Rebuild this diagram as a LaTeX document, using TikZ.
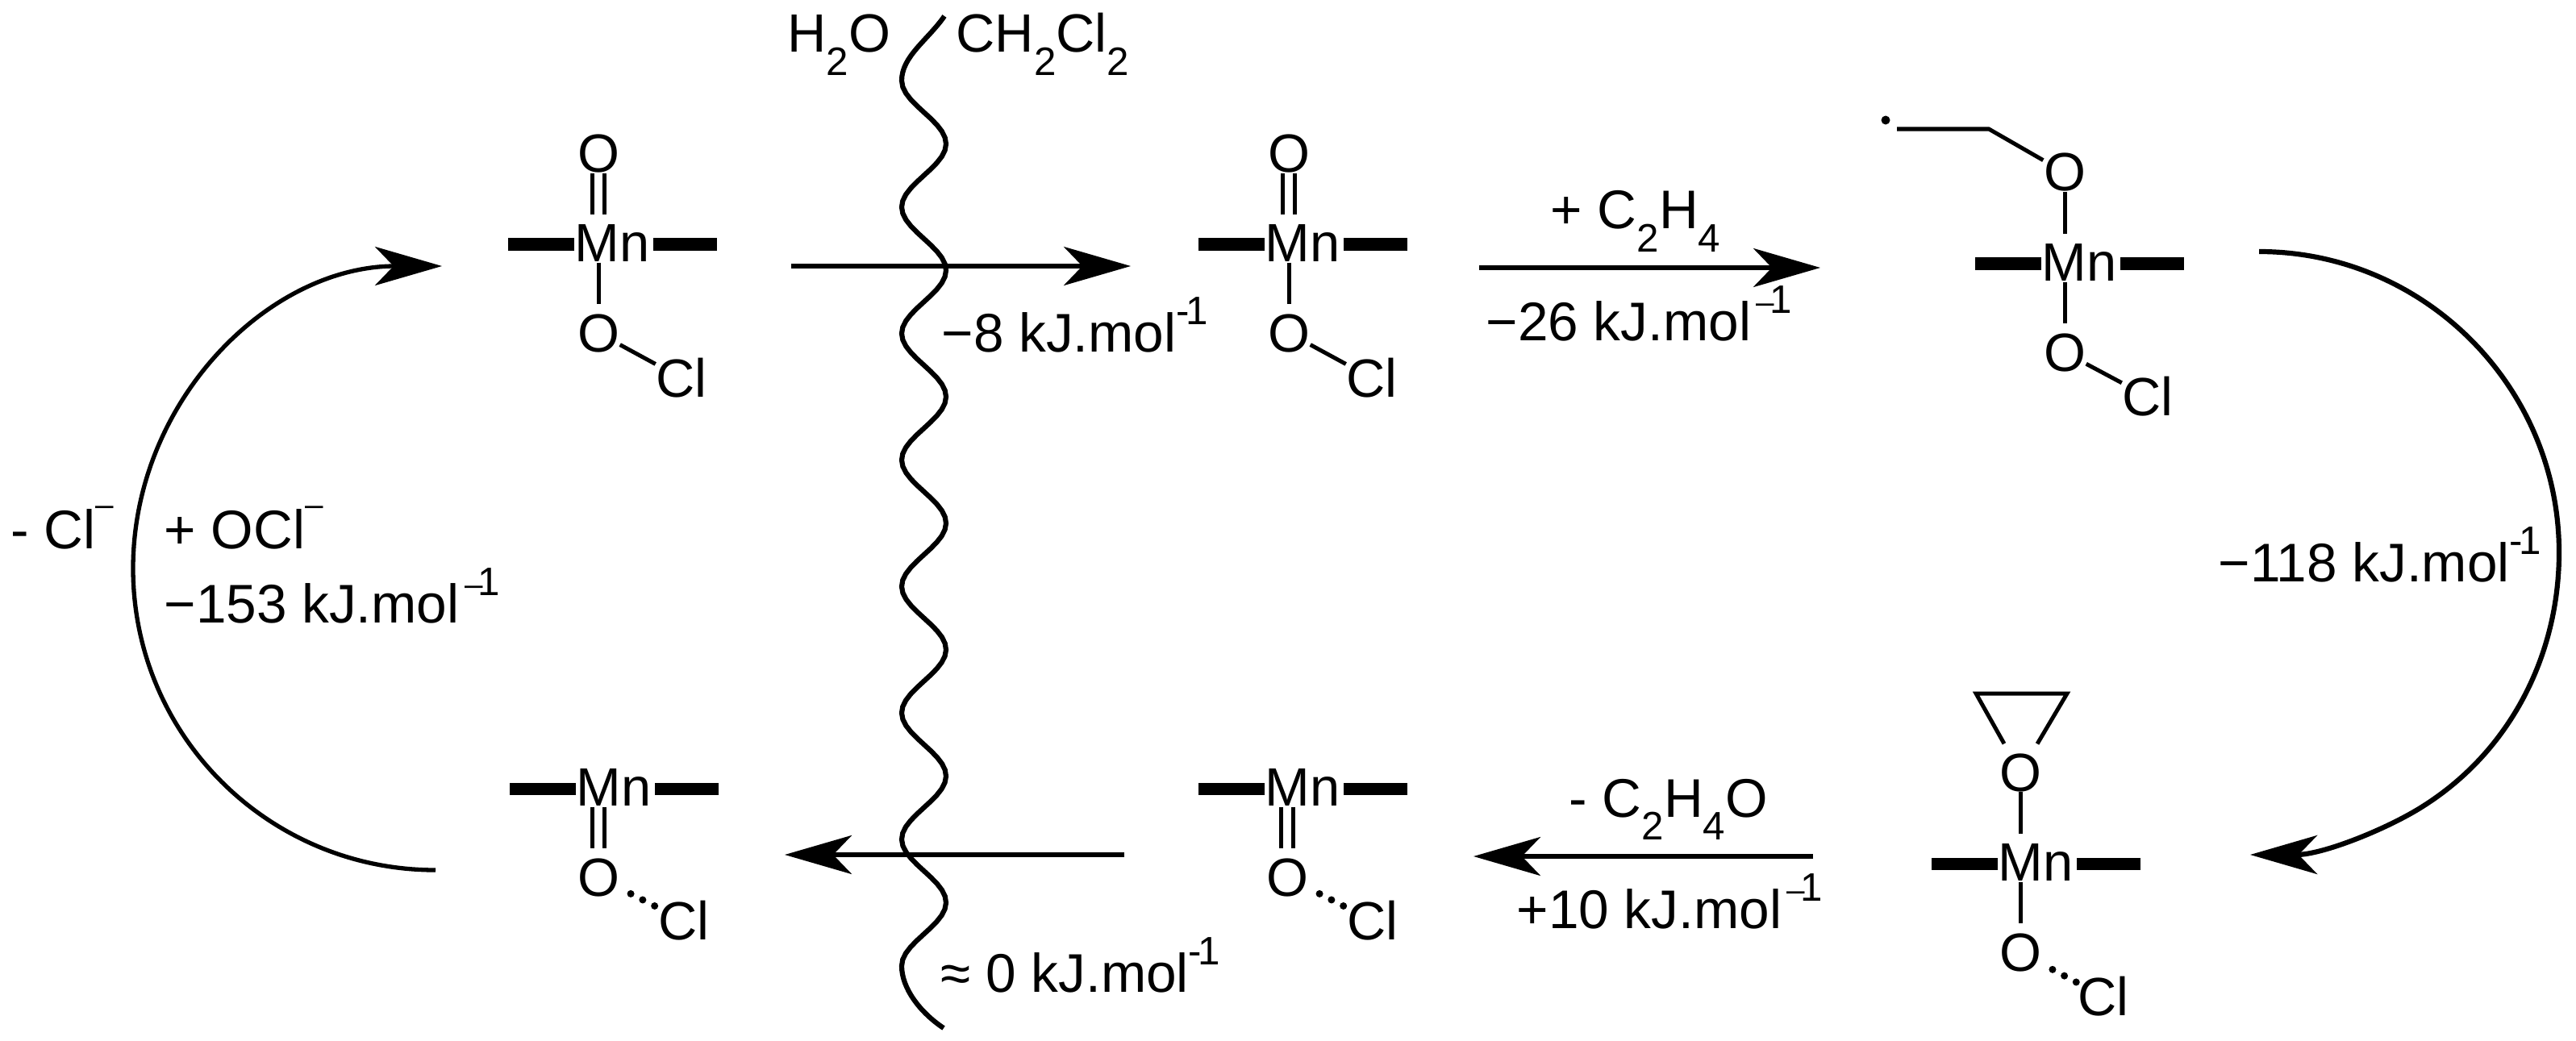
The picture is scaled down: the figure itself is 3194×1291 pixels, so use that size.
\documentclass[tikz,border=0pt]{standalone}
\usepackage{fontspec}
\setmainfont{Liberation Sans}
\usetikzlibrary{arrows.meta}

\newcommand{\supr}[1]{\raisebox{.5em}{\fontsize{14}{14}\selectfont #1}}
\newcommand{\subr}[1]{\raisebox{-.42em}{\fontsize{14}{14}\selectfont #1}}
\newcommand{\supbar}{{\fontsize{11.5}{12}\selectfont –}}
\newcommand{\kjbar}{kJ.mol\kern.1em\supr{\supbar\kern-.12em 1}}
\newcommand{\kjhyp}{kJ.mol\supr{-\kern-.1em 1}}

\tikzset{
    atom/.style={inner sep=0pt, font=\fontsize{19}{22}\selectfont},
    lab/.style={anchor=base west, inner sep=0pt, font=\fontsize{19.2}{24}\selectfont},
    phase/.style={anchor=base west, inner sep=0pt, font=\fontsize{19}{22}\selectfont},
    bond/.style={line width=.05cm},
    bondup/.style={bond, shorten >=.12cm},
    dbond/.style={line width=.045cm, double, double distance=.105cm, shorten >=.12cm},
    ligand/.style={line width=.15cm},
    dotbond/.style={line width=.09cm, line cap=round, dash pattern=on 0pt off .166cm, shorten <=.15cm},
    radical/.style={circle, fill=black, inner sep=0pt, minimum size=.11cm},
    rxn/.style={-{Stealth[length=.83cm, width=.48cm, inset=.23cm]}, line width=.053cm},
    wave/.style={line width=.062cm}
}

\begin{document}
\begin{tikzpicture}[x=.01cm, y=-.01cm]
    \useasboundingbox (0, 0) rectangle (3194, 1291);

    % Metal centres
    \foreach \m/\px/\py in {mnA/759/302, mnB/1615/302, mnC/2578/326, mnD/761/977, mnE/1615/977, mnF/2524/1070}
        \node[atom] (\m) at (\px, \py) {Mn};
    % Oxygens
    \foreach \o/\px/\py in {oA/742/191, oB/1598/191, oC/2560/214, oF/2505/958, oxA/742/413, oxB/1598/413, oxC/2560/437, oxD/742/1088, oxE/1596/1088, oxF/2505/1181}
        \node[atom] (\o) at (\px, \py) {O};
    % Chlorines
    \foreach \c/\px/\py in {clA/845/469, clB/1701/469, clC/2663/492, clD/848/1142, clE/1702/1142, clF/2608/1236}
        \node[atom] (\c) at (\px, \py) {Cl};

    % Ligand bars
    \foreach \m in {mnA, mnB, mnC, mnD, mnE, mnF}
        \draw[ligand] (\m.west) ++(0, 1) -- ++(-82, 0) (\m.east) ++(4, 1) -- ++(79, 0);

    % Bonds
    \foreach \o/\m in {oA/mnA, oB/mnB}
        \draw[dbond] (\o.south) -- (\o.south |- \m.north);
    \foreach \o/\m in {oC/mnC, oF/mnF}
        \draw[bondup] (\o.south) -- (\o.south |- \m.north);
    \foreach \m/\o in {mnA/oxA, mnB/oxB, mnC/oxC, mnF/oxF}
        \draw[bondup] (\m.south -| \o) -- (\o);
    \foreach \m/\o in {mnD/oxD, mnE/oxE}
        \draw[dbond] (\m.south -| \o) -- (\o);
    \foreach \o/\c in {oxA/clA, oxB/clB, oxC/clC}
        \draw[bond] (\o) -- (\c);
    \foreach \o/\c in {oxD/clD, oxE/clE, oxF/clF}
        \draw[dotbond] (\o) -- (\c);

    % Radical chain
    \node[radical] (radC) at (2338, 149) {};
    \coordinate (chainA) at (2352, 160);
    \coordinate (chainB) at (2466, 160);
    \draw[bond] (chainA) -- (chainB) -- (oC);

    % Epoxide
    \coordinate (epA) at (2450, 860);
    \coordinate (epB) at (2563, 860);
    \draw[bond, shorten <=.13cm, shorten >=.13cm] (oF) -- (epA) -- (epB) -- (oF);

    % Phase boundary
    \coordinate (waveTop) at (1171, 20);
    \coordinate (waveEnd) at (1170, 1275);
    \draw[wave] (waveTop) .. controls (1150, 50) and (1118, 70) .. (1118, 100)
        -- plot[domain=100:1198, samples=141] ({1145.5-27.5*cos(2.2959*(\x-100))}, \x)
        .. controls (1118, 1225) and (1140, 1255) .. (waveEnd);

    % Straight arrows
    \coordinate (arAs) at (981, 330);
    \coordinate (arAe) at (1402, 330);
    \coordinate (arBs) at (1834, 332);
    \coordinate (arBe) at (2257, 332);
    \coordinate (arCs) at (2248, 1062);
    \coordinate (arCe) at (1827, 1062);
    \coordinate (arDs) at (1394, 1060);
    \coordinate (arDe) at (973, 1060);
    \foreach \s/\e in {arAs/arAe, arBs/arBe, arCs/arCe, arDs/arDe}
        \draw[rxn] (\s) -- (\e);

    % Curved arrows
    \coordinate (arcRs) at (2801, 312);
    \coordinate (arcRm) at (3173, 685);
    \coordinate (arcRe) at (2790, 1060);
    \draw[rxn, line width=.062cm] (arcRs) .. controls (3006, 312) and (3173, 480) .. (arcRm)
        .. controls (3173, 813) and (3112, 932) .. (3004, 1000)
        .. controls (2960, 1028) and (2880, 1060) .. (arcRe);
    \coordinate (arcLs) at (540, 1079);
    \coordinate (arcLm) at (165, 705);
    \coordinate (arcLe) at (548, 330);
    \draw[rxn] (arcLs) .. controls (333, 1079) and (165, 912) .. (arcLm)
        .. controls (165, 498) and (333, 330) .. (arcLe);

    % Labels
    \node[phase] (labWater) at (976, 65) {H\subr{2}O};
    \node[phase] (labSolvent) at (1185, 65) {CH\subr{2}Cl\subr{2}};
    \node[lab] (labA) at (1167, 436) {−8 \kjhyp};
    \node[lab] (labEthene) at (1922, 284) {+ C\subr{2}H\subr{4}};
    \node[lab] (labB) at (1842, 422) {−26 \kjbar};
    \node[lab] (labC) at (2750, 721) {−118 \kjhyp};
    \node[lab] (labOxide) at (1945, 1013) {- C\subr{2}H\subr{4}O};
    \node[lab] (labD) at (1880, 1151) {+10 \kjbar};
    \node[lab] (labE) at (1166, 1230) {≈ 0 \kjhyp};
    \node[lab] (labCl) at (13, 680) {- Cl\raisebox{.6em}{\supbar}};
    \node[lab] (labOCl) at (203, 680) {+ OCl\raisebox{.6em}{\supbar}};
    \node[lab] (labF) at (203, 772) {−153 \kjbar};
\end{tikzpicture}
\end{document}
